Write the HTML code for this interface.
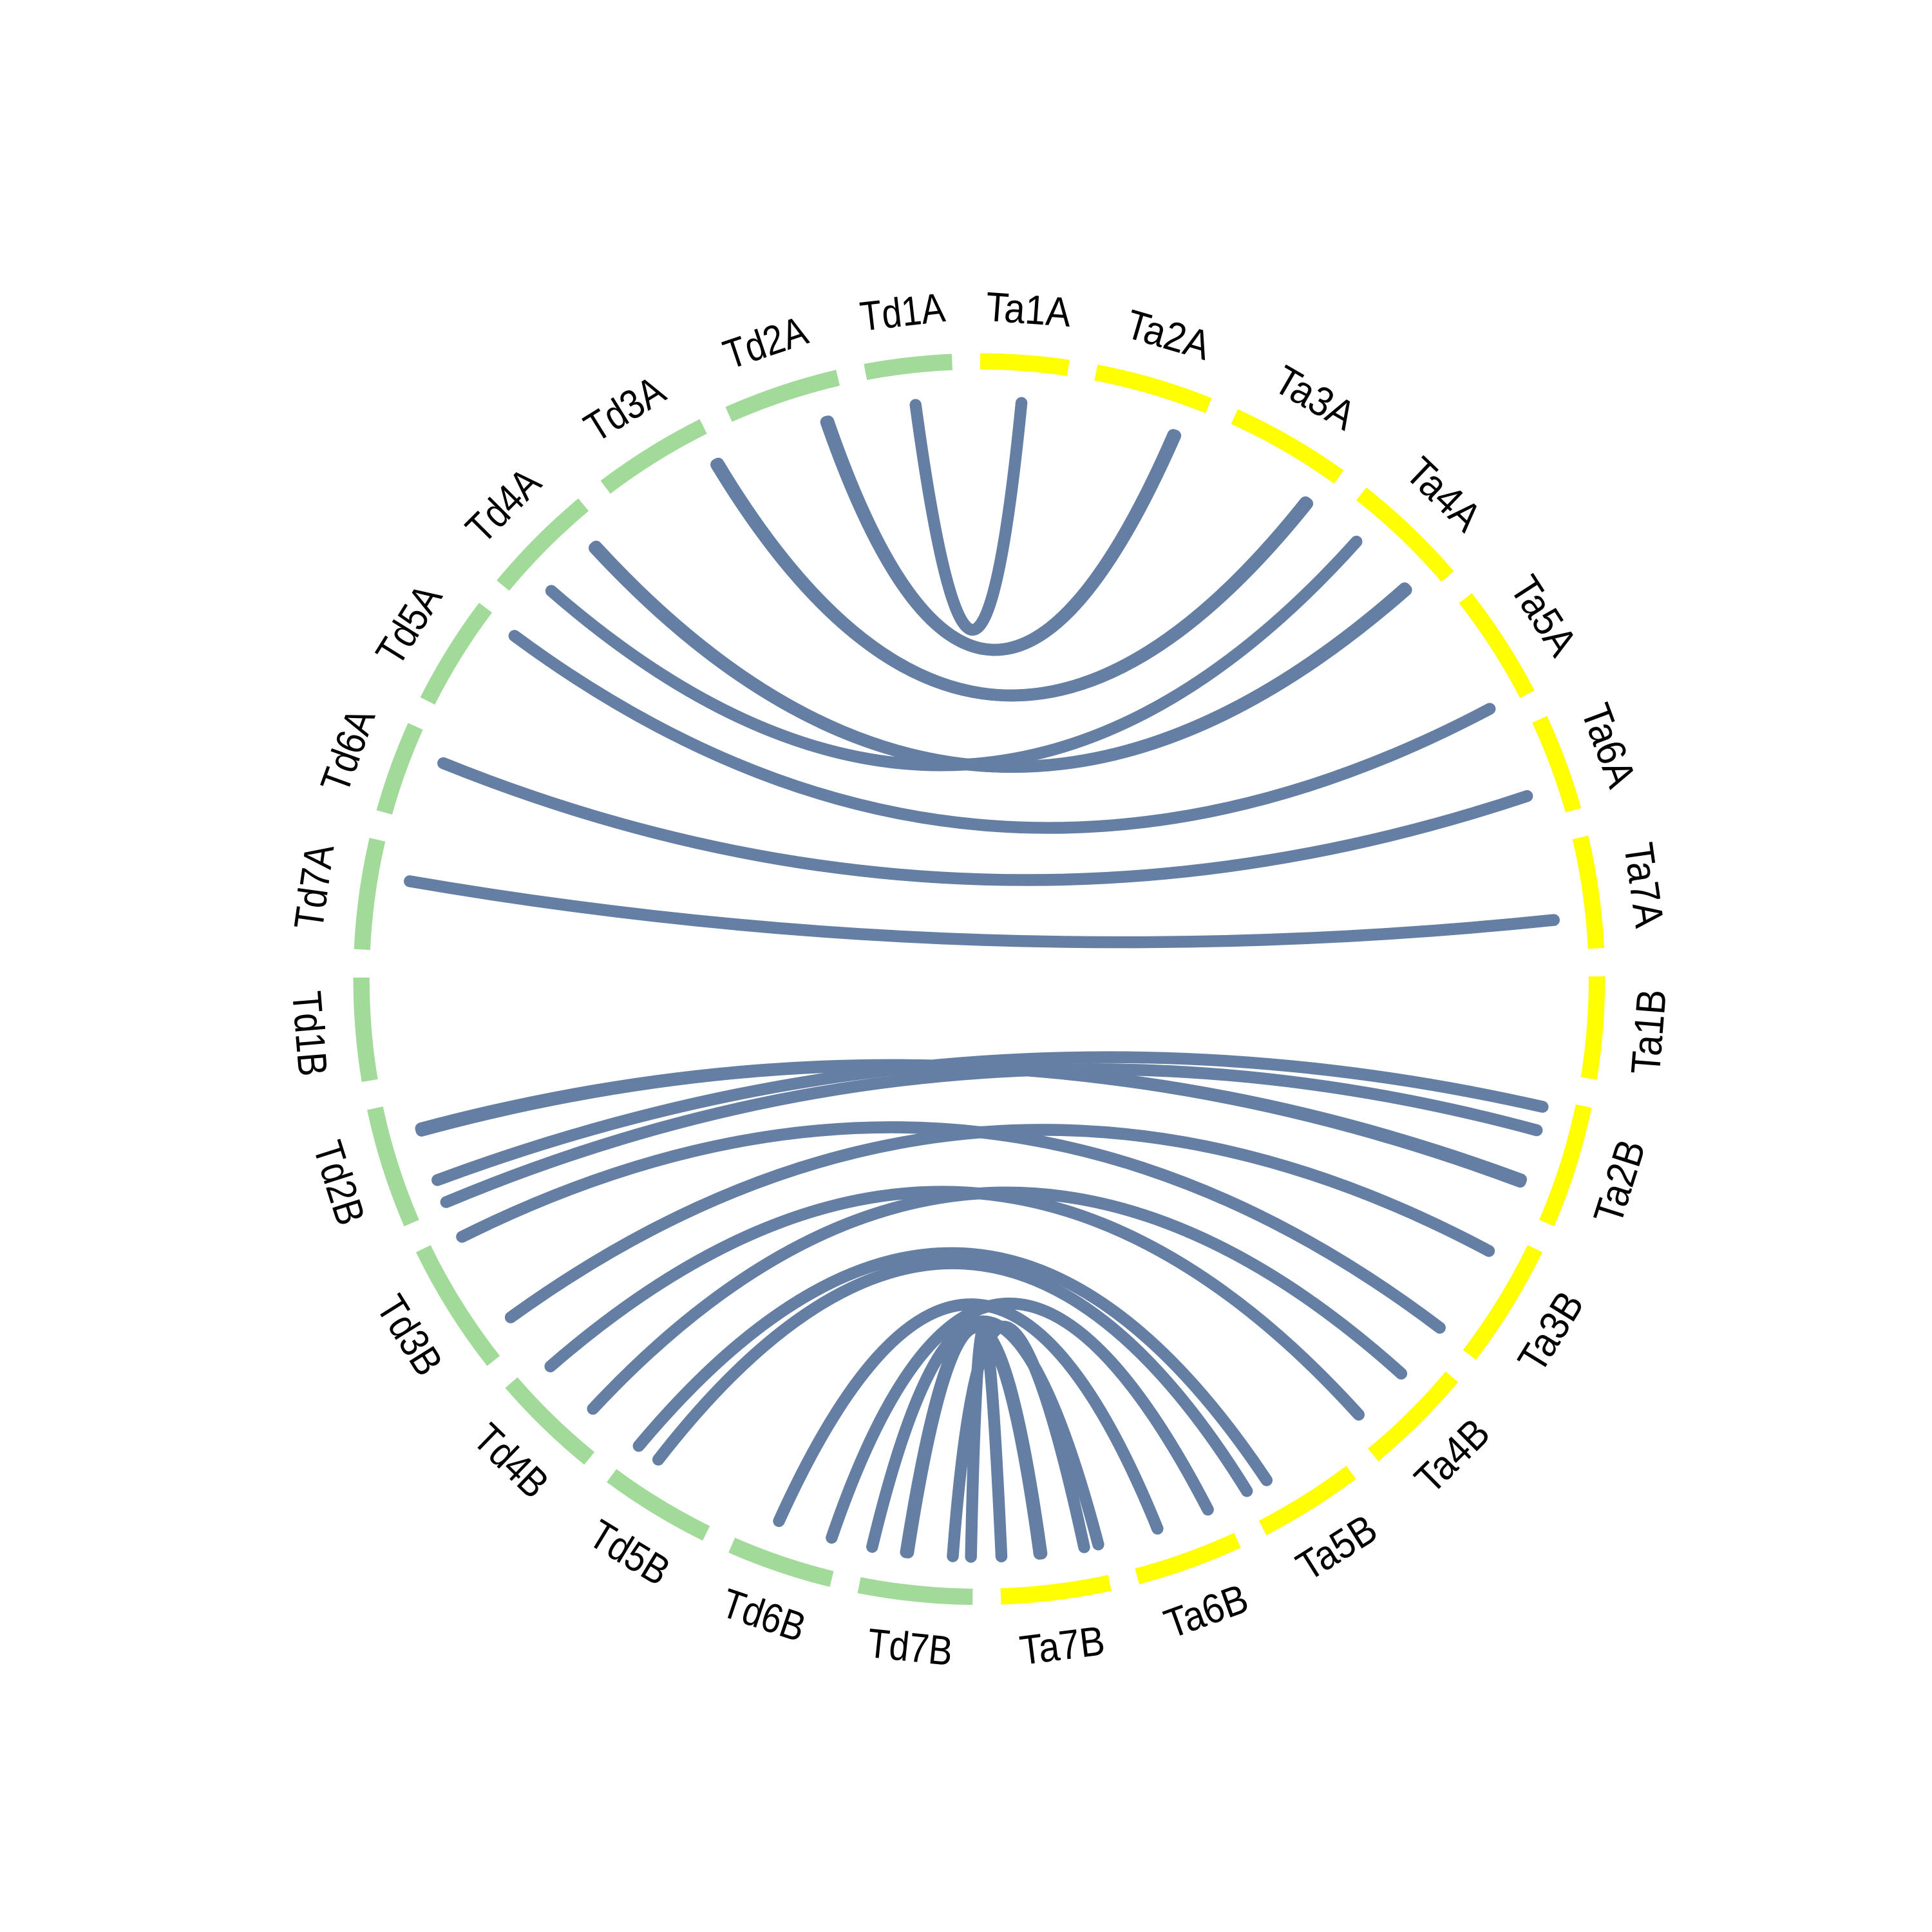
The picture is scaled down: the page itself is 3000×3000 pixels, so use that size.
<!DOCTYPE html>
<html><head><meta charset="utf-8"><style>
html,body{margin:0;padding:0;background:#fff;}
svg{display:block;}
text{font-family:"Liberation Sans","DejaVu Sans",sans-serif;fill:#000;}
</style></head><body>
<svg id="chart" width="3000" height="3000" viewBox="0 0 1545 1545" xmlns="http://www.w3.org/2000/svg">
<g id="ring"></g>
<g id="links"></g>
<g id="labels"></g>
</svg>
<script>
// chromosome order (clockwise from top) and relative sizes
const chromNames = ["Ta1A","Ta2A","Ta3A","Ta4A","Ta5A","Ta6A","Ta7A","Ta1B","Ta2B","Ta3B","Ta4B","Ta5B","Ta6B","Ta7B",
  "Td7B","Td6B","Td5B","Td4B","Td3B","Td2B","Td1B","Td7A","Td6A","Td5A","Td4A","Td3A","Td2A","Td1A"];
const chromSizes = [8.2,10.9,11.2,11.1,10.6,9.0,10.4,9.5,11.4,11.6,10.3,9.7,9.9,10.2,
  10.6,9.8,10.3,10.1,12.3,11.2,9.6,10.3,8.5,10.2,10.6,10.7,10.7,8.1];
// links: source chromosome/position (0-1), target chromosome/position (0-1)
const linkFromChr = ["Td1A","Td2A","Td2A","Td2A","Td3A","Td3A","Td3A","Td4A","Td4A","Td4A","Td4A","Td5A","Td6A","Td7A",
  "Td2B","Td2B","Td2B","Td2B","Td2B","Td3B","Td3B","Td4B","Td4B","Td5B","Td5B",
  "Td6B","Td6B","Td7B","Td7B","Td7B","Td7B","Td7B","Td7B"];
const linkFromPos = [0.53,0.80,0.81,0.82,0.95,0.96,0.97,0.82,0.83,0.84,0.25,0.95,0.74,0.68,
  0.72,0.73,0.74,0.26,0.05,0.95,0.19,0.87,0.28,0.96,0.73,
  0.66,0.10,0.95,0.61,0.62,0.63,0.19,0.02];
const linkToChr = ["Ta1A","Ta2A","Ta2A","Ta2A","Ta3A","Ta3A","Ta3A","Ta4A","Ta4A","Ta4A","Ta4A","Ta5A","Ta6A","Ta7A",
  "Ta2B","Ta2B","Ta2B","Ta2B","Ta2B","Ta3B","Ta3B","Ta4B","Ta4B","Ta5B","Ta5B",
  "Ta6B","Ta6B","Ta7B","Ta7B","Ta7B","Ta7B","Ta7B","Ta7B"];
const linkToPos = [0.50,0.80,0.81,0.82,0.89,0.90,0.91,0.83,0.84,0.85,0.23,0.96,0.71,0.71,
  0.74,0.75,0.76,0.08,0.29,0.97,0.19,0.86,0.29,0.74,0.97,
  0.68,0.14,0.03,0.59,0.60,0.61,0.17,0.98];

const NS="http://www.w3.org/2000/svg";
const CX=783, CY=783, R_RING=494, R_LINK=462, R_LABEL=537;
const START=0.1;
const totalSize=chromSizes.reduce((a,b)=>a+b,0);
const GAP=(360-totalSize)/chromNames.length;
const segStart={}, segSize={};
let a=START;
chromNames.forEach((n,i)=>{segStart[n]=a;segSize[n]=chromSizes[i];a+=chromSizes[i]+GAP;});
function angleOf(chr,pos){return segStart[chr]+pos*segSize[chr];}
function pt(theta,r){const t=theta*Math.PI/180;return [CX+r*Math.sin(t),CY-r*Math.cos(t)];}

const ring=document.getElementById('ring');
const labels=document.getElementById('labels');
chromNames.forEach(n=>{
  const s=segStart[n], e=s+segSize[n];
  const p1=pt(s,R_RING), p2=pt(e,R_RING);
  const path=document.createElementNS(NS,'path');
  path.setAttribute('d',`M${p1[0]},${p1[1]} A${R_RING},${R_RING} 0 0 1 ${p2[0]},${p2[1]}`);
  path.setAttribute('fill','none');
  path.setAttribute('stroke',n.startsWith('Ta')?'#ffff00':'#a2da9a');
  path.setAttribute('stroke-width','13');
  
  
  ring.appendChild(path);
  let mid=s+segSize[n]/2; let m=mid>180?mid-360:mid;
  const lp=pt(mid,R_LABEL);
  const rot=Math.abs(m)<=90?m:m+180;
  const t=document.createElementNS(NS,'text');
  t.setAttribute('x',lp[0]);t.setAttribute('y',lp[1]);
  t.setAttribute('text-anchor','middle');
  t.setAttribute('dominant-baseline','central');
  t.setAttribute('font-size','33');
  t.setAttribute('textLength','68');
  t.setAttribute('lengthAdjust','spacingAndGlyphs');
  t.setAttribute('transform',`rotate(${rot},${lp[0]},${lp[1]})`);
  t.textContent=n;
  
  
  labels.appendChild(t);
});

const links=document.getElementById('links');
for(let i=0;i<linkFromChr.length;i++){
  const t1=angleOf(linkFromChr[i],linkFromPos[i]);
  const t2=angleOf(linkToChr[i],linkToPos[i]);
  let d=((t2-t1)%360+360)%360; let mid;
  if(d>180){d=360-d;mid=t2+d/2;}else{mid=t1+d/2;}
  const rc=Math.max(0,100*(1-Math.pow(d/95,2)));
  const p1=pt(t1,R_LINK),p2=pt(t2,R_LINK),c=pt(mid,rc);
  const path=document.createElementNS(NS,'path');
  path.setAttribute('d',`M${p1[0]},${p1[1]} Q${c[0]},${c[1]} ${p2[0]},${p2[1]}`);
  path.setAttribute('fill','none');
  path.setAttribute('stroke','#647fa3');
  path.setAttribute('stroke-width','9.5');
  path.setAttribute('stroke-linecap','round');
  
  
  links.appendChild(path);
}
</script>
</body></html>
